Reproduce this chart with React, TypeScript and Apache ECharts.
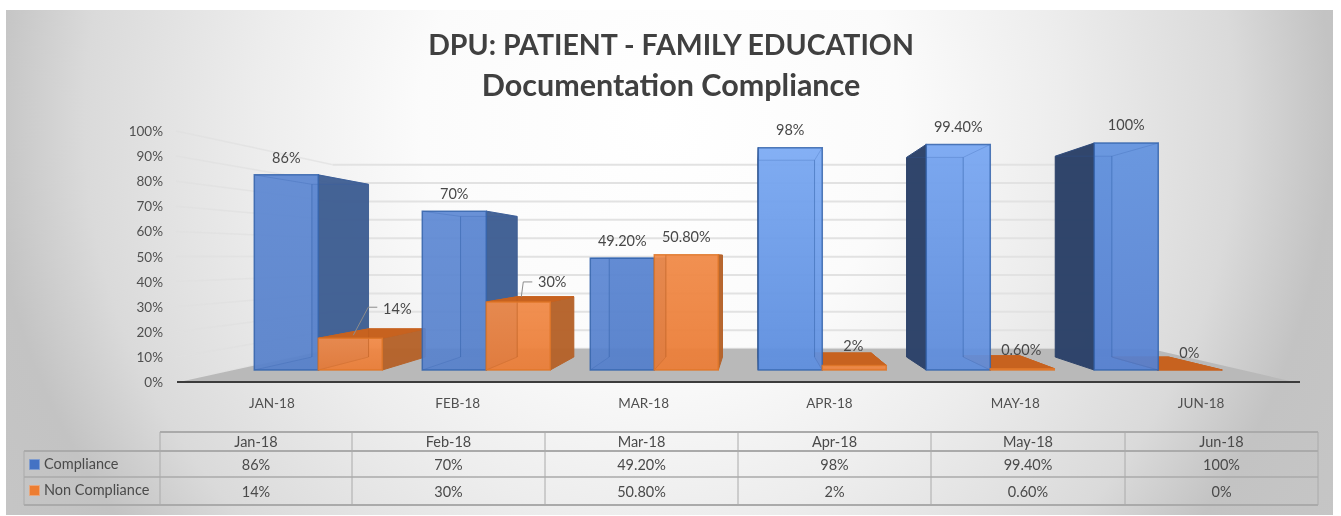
import React, { useEffect, useRef } from "react";
import * as echarts from "echarts";

const titleLines = ["DPU: PATIENT - FAMILY EDUCATION", "Documentation Compliance"];
const axisCategories = ["JAN-18", "FEB-18", "MAR-18", "APR-18", "MAY-18", "JUN-18"];
const tableHeaders = ["Jan-18", "Feb-18", "Mar-18", "Apr-18", "May-18", "Jun-18"];
const compliance = [86, 70, 49.2, 98, 99.4, 100];
const nonCompliance = [14, 30, 50.8, 2, 0.6, 0];
const yTicks = [0, 10, 20, 30, 40, 50, 60, 70, 80, 90, 100];
const seriesNames = ["Compliance", "Non Compliance"];

const FONT = "Lato, 'Open Sans', sans-serif";
const INK = "#404040";

// Perspective of the 3D look: every depth plane is the axis plane scaled about a vanishing point.
const VP = [755, 257];
const S_FRONT = 0.904;
const S_BACK = 0.8;
const S_WALL = 0.733;
const BAR_BAND = 0.381;
const at = (s: number, x: number, y: number) => [VP[0] + (x - VP[0]) * s, VP[1] + (y - VP[1]) * s];

const pct = (v: number) => (Number.isInteger(v) ? `${v}%` : `${v.toFixed(2)}%`);

const blueFront = [
  ["#5C87D2", "#5781CB"],
  ["#5E89D4", "#5882CC"],
  ["#5C87D3", "#5580CC"],
  ["#7BAAF4", "#5E8FE0"],
  ["#77A6F2", "#5F8DDC"],
  ["#6192DF", "#5681D2"],
];
const PAL = [
  { side: "#3F5F93", dark: "#2D4269", top: "#6E9FE8", edge: "#3564AC", inner: "#2E5DA6" },
  { side: "#B5632B", dark: "#B5632B", top: "#C7621F", edge: "#DE7628", inner: "#B85A1C" },
];
const orangeFront = ["#F28C4A", "#EC7E38"];

// Label offsets from the middle of a bar's top front edge.
const labelOffsets = [
  [[0, -17], [0, -18], [0, -18], [0, -18], [0, -18], [0, -19]],
  [[47, -30], [34, -20], [0, -18], [-1, -19.5], [-1, -19], [-1, -18]],
];
const leaders: Record<number, number[][]> = {
  0: [[3, -3], [18, -31], [27, -31]],
  1: [[3, -5], [5, -20], [14, -20]],
};

const poly = (points: number[][], fill: any, opacity = 1, stroke?: string) => ({
  type: "polygon",
  shape: { points },
  silent: true,
  style: { fill, opacity, stroke: stroke || "none", lineWidth: stroke ? 1 : 0 },
});
const seg = (a: number[], b: number[], stroke: string, lineWidth = 1, opacity = 1) => ({
  type: "line",
  shape: { x1: a[0], y1: a[1], x2: b[0], y2: b[1] },
  silent: true,
  style: { stroke, lineWidth, opacity },
});

function boxPoints(api: any, which: number) {
  const idx = api.value(0);
  const v = api.value(1);
  const [cx, yT] = api.coord([idx, v]);
  const [, yB] = api.coord([idx, 0]);
  const w = api.size([1, 0])[0] * BAR_BAND;
  const xL = which === 0 ? cx - w : cx;
  const xR = which === 0 ? cx : cx + w;
  return {
    idx,
    v,
    fTL: at(S_FRONT, xL, yT),
    fTR: at(S_FRONT, xR, yT),
    fBL: at(S_FRONT, xL, yB),
    fBR: at(S_FRONT, xR, yB),
    bTL: at(S_BACK, xL, yT),
    bTR: at(S_BACK, xR, yT),
    bBL: at(S_BACK, xL, yB),
    bBR: at(S_BACK, xR, yB),
  };
}

function depthSeries(name: string, values: number[], which: number) {
  const c = PAL[which];
  return {
    type: "custom",
    name: name + " depth",
    silent: true,
    clip: false,
    data: values.map((v, i) => [i, v]),
    encode: { x: 0, y: 1 },
    renderItem: (_p: any, api: any) => {
      const b = boxPoints(api, which);
      const children: any[] = [];
      children.push(poly([b.fBL, b.fBR, b.bBR, b.bBL], which === 0 ? "#3F5F93" : "#A9581F", 0.25));
      children.push(poly([b.bTL, b.bTR, b.bBR, b.bBL], c.side, 0.35));
      // The top face only shows on bars that end below the eye line.
      if (b.bTL[1] < b.fTL[1]) {
        children.push(poly([b.fTL, b.fTR, b.bTR, b.bTL], c.top, 1, c.top));
      }
      if (b.fTR[0] < VP[0]) {
        children.push(poly([b.fTR, b.bTR, b.bBR, b.fBR], c.side, 0.96, c.side));
      }
      if (b.fTL[0] > VP[0]) {
        children.push(poly([b.fTL, b.bTL, b.bBL, b.fBL], c.dark, 0.98, c.dark));
      }
      if (which === 1 && b.bTL[1] < b.fTL[1]) {
        children.push(poly([b.fTL, b.fTR, b.bTR, b.bTL], c.top, 1, c.top));
      }
      return { type: "group", children };
    },
    z: which === 0 ? 3 : 4,
  };
}

function frontSeries(name: string, values: number[], which: number) {
  const c = PAL[which];
  return {
    type: "custom",
    name,
    silent: true,
    clip: false,
    data: values.map((v, i) => [i, v]),
    encode: { x: 0, y: 1 },
    renderItem: (_p: any, api: any) => {
      const b = boxPoints(api, which);
      const stops = which === 0 ? blueFront[b.idx] : orangeFront;
      const fill = new echarts.graphic.LinearGradient(0, 0, 0, 1, [
        { offset: 0, color: stops[0] },
        { offset: 1, color: stops[1] },
      ]);
      const cx = (b.fTL[0] + b.fTR[0]) / 2;
      const top = b.fTL[1];
      const [dx, dy] = labelOffsets[which][b.idx];
      const children: any[] = [];
      if (b.v > 0) {
        children.push(poly([b.fTL, b.fTR, b.fBR, b.fBL], fill, 0.93));
      }
      // Back edges, showing through the glass-like front face
      const innerAlpha = b.v > 5 ? 0.5 : 0;
      if (innerAlpha > 0 && b.fTL[0] < b.bTL[0] && b.bTL[0] < b.fTR[0]) {
        children.push(seg(b.bTL, b.bBL, c.inner, 1, innerAlpha));
        children.push(seg(b.fBL, b.bBL, c.inner, 1, innerAlpha * 0.5));
      }
      if (innerAlpha > 0 && b.fTL[0] < b.bTR[0] && b.bTR[0] < b.fTR[0]) {
        children.push(seg(b.bTR, b.bBR, c.inner, 1, innerAlpha));
        children.push(seg(b.fBR, b.bBR, c.inner, 1, innerAlpha * 0.5));
      }
      if (innerAlpha > 0 && which === 0) {
        children.push(seg(b.fTL, b.bTL, c.inner, 1, innerAlpha * 0.5));
        children.push(seg(b.fTR, b.bTR, c.inner, 1, innerAlpha * 0.5));
        children.push(seg(b.bTL, b.bTR, c.inner, 1, innerAlpha * 0.5));
      }
      if (b.v > 0) {
        children.push({
          type: "polygon",
          shape: { points: [b.fTL, b.fTR, b.fBR, b.fBL] },
          silent: true,
          style: { fill: "none", stroke: c.edge, lineWidth: 1.5, opacity: 0.85 },
        });
      }
      if (which === 1 && leaders[b.idx]) {
        children.push({
          type: "polyline",
          shape: { points: leaders[b.idx].map(([x, y]) => [cx + x, top + y]) },
          silent: true,
          style: { stroke: "#8c8c8c", lineWidth: 1, fill: "none" },
        });
      }
      children.push({
        type: "text",
        silent: true,
        z2: 50,
        style: {
          text: pct(b.v),
          x: cx + dx,
          y: top + dy,
          fill: "#484848",
          font: `14.5px ${FONT}`,
          align: "center",
          verticalAlign: "middle",
        },
      });
      return { type: "group", children };
    },
    z: which === 0 ? 5 : 6,
  };
}

const floorSeries = {
  type: "custom",
  name: "Floor",
  silent: true,
  clip: false,
  data: [[0, 0]],
  encode: { x: 0, y: 1 },
  renderItem: (p: any, api: any) => {
    const g = p.coordSys;
    const [, y0] = api.coord([0, 0]);
    const L = g.x;
    const R = g.x + g.width;
    return {
      type: "group",
      children: [
        poly([[L, y0], [R, y0], at(S_WALL, R, y0), at(S_WALL, L, y0)], "#b9b9b9"),
      ],
    };
  },
  z: 2,
};

const wallSeries = {
  type: "custom",
  name: "Walls",
  silent: true,
  clip: false,
  data: yTicks.map((t) => [0, t]),
  encode: { x: 0, y: 1 },
  renderItem: (p: any, api: any) => {
    const g = p.coordSys;
    const [, y] = api.coord([0, api.value(1)]);
    const L = g.x - 3;
    const R = g.x + g.width;
    const bl = at(S_WALL, g.x, y);
    const br = at(S_WALL, R, y);
    return {
      type: "group",
      children: [
        seg([L, y], bl, "#e0e0e0", 1.5, 0.7),
        seg(bl, br, "#e2e2e2", 2),
      ],
    };
  },
  z: 1,
};

const axisLineSeries = {
  type: "custom",
  name: "Axis line",
  silent: true,
  clip: false,
  data: [[0, 0]],
  encode: { x: 0, y: 1 },
  renderItem: (p: any, api: any) => {
    const g = p.coordSys;
    const [, y0] = api.coord([0, 0]);
    return seg([g.x - 2, y0], [g.x + g.width + 6, y0], "#3c3c3c", 2);
  },
  z: 7,
};

// Data table below the plot
const colX = [160, 352, 545, 738, 931, 1125, 1318];
const rowY = [432, 451, 477, 505];
const tableLine = (x1: number, y1: number, x2: number, y2: number, w = 1) => ({
  type: "line",
  silent: true,
  shape: { x1, y1, x2, y2 },
  style: { stroke: "#aaaaaa", lineWidth: w },
});
const tableText = (text: string, x: number, y: number, align = "center") => ({
  type: "text",
  silent: true,
  style: { text, x, y, fill: "#4a4a4a", font: `14.5px ${FONT}`, align, verticalAlign: "middle" },
});

function tableElements() {
  const els: any[] = [];
  els.push(tableLine(colX[0], rowY[0], colX[6], rowY[0], 2));
  els.push(tableLine(24, rowY[1], colX[6], rowY[1], 2));
  els.push(tableLine(24, rowY[2], colX[6], rowY[2], 1.5));
  els.push(tableLine(24, rowY[3], colX[6], rowY[3], 2));
  els.push(tableLine(24, rowY[1], 24, rowY[3]));
  colX.forEach((x) => els.push(tableLine(x, rowY[0], x, rowY[3])));
  tableHeaders.forEach((h, i) => {
    const cx = (colX[i] + colX[i + 1]) / 2;
    els.push(tableText(h, cx, 441.5));
    els.push(tableText(pct(compliance[i]), cx, 464));
    els.push(tableText(pct(nonCompliance[i]), cx, 491));
  });
  els.push({ type: "rect", silent: true, shape: { x: 29.5, y: 459.5, width: 10, height: 10 }, style: { fill: "#4472C4", stroke: "#7f9ccf", lineWidth: 1 } });
  els.push({ type: "rect", silent: true, shape: { x: 29.5, y: 485.5, width: 10, height: 10 }, style: { fill: "#ED7D31", stroke: "#e9a77c", lineWidth: 1 } });
  els.push(tableText(seriesNames[0], 44, 463.5, "left"));
  els.push(tableText(seriesNames[1], 44, 489.5, "left"));
  return els;
}

export default function App() {
  const ref = useRef<HTMLDivElement>(null);
  useEffect(() => {
    const chart = echarts.init(ref.current!, undefined, { renderer: "svg" });
    chart.setOption({
      animation: false,
      title: {
        text: titleLines[0],
        subtext: titleLines[1],
        left: 666,
        top: 24,
        itemGap: 10,
        textAlign: "center",
        textStyle: { fontFamily: FONT, fontWeight: "bold", fontSize: 28.5, color: INK },
        subtextStyle: { fontFamily: FONT, fontWeight: "bold", fontSize: 30.5, color: INK },
      },
      graphic: [
        {
          type: "rect",
          silent: true,
          z: -10,
          shape: { x: 6, y: 10, width: 1327, height: 505 },
          style: {
            fill: new echarts.graphic.RadialGradient(660, 120, 800, [
              { offset: 0, color: "#ffffff" },
              { offset: 0.3, color: "#fbfbfb" },
              { offset: 0.5, color: "#ededed" },
              { offset: 0.72, color: "#dadada" },
              { offset: 0.84, color: "#c3c3c3" },
              { offset: 1, color: "#c6c6c6" },
            ], true),
          },
        },
        ...tableElements(),
      ],
      grid: { left: 179, width: 1115, top: 131, height: 251, containLabel: false },
      xAxis: {
        type: "category",
        data: axisCategories,
        axisLine: { show: false },
        axisTick: { show: false },
        axisLabel: { color: "#505050", fontFamily: FONT, fontSize: 13.5, margin: 14 },
      },
      yAxis: {
        type: "value",
        min: 0,
        max: 100,
        interval: 10,
        axisLine: { show: false },
        axisTick: { show: false },
        splitLine: { show: false },
        axisLabel: { formatter: "{value}%", color: "#505050", fontFamily: FONT, fontSize: 13.5, margin: 16 },
      },
      series: [
        wallSeries,
        floorSeries,
        depthSeries(seriesNames[0], compliance, 0),
        depthSeries(seriesNames[1], nonCompliance, 1),
        frontSeries(seriesNames[0], compliance, 0),
        frontSeries(seriesNames[1], nonCompliance, 1),
        axisLineSeries,
      ],
    });
    return () => chart.dispose();
  }, []);
  return <div ref={ref} style={{ position: "absolute", left: 0, top: 0, width: 1341, height: 516, filter: "blur(0.4px)" }} />;
}
